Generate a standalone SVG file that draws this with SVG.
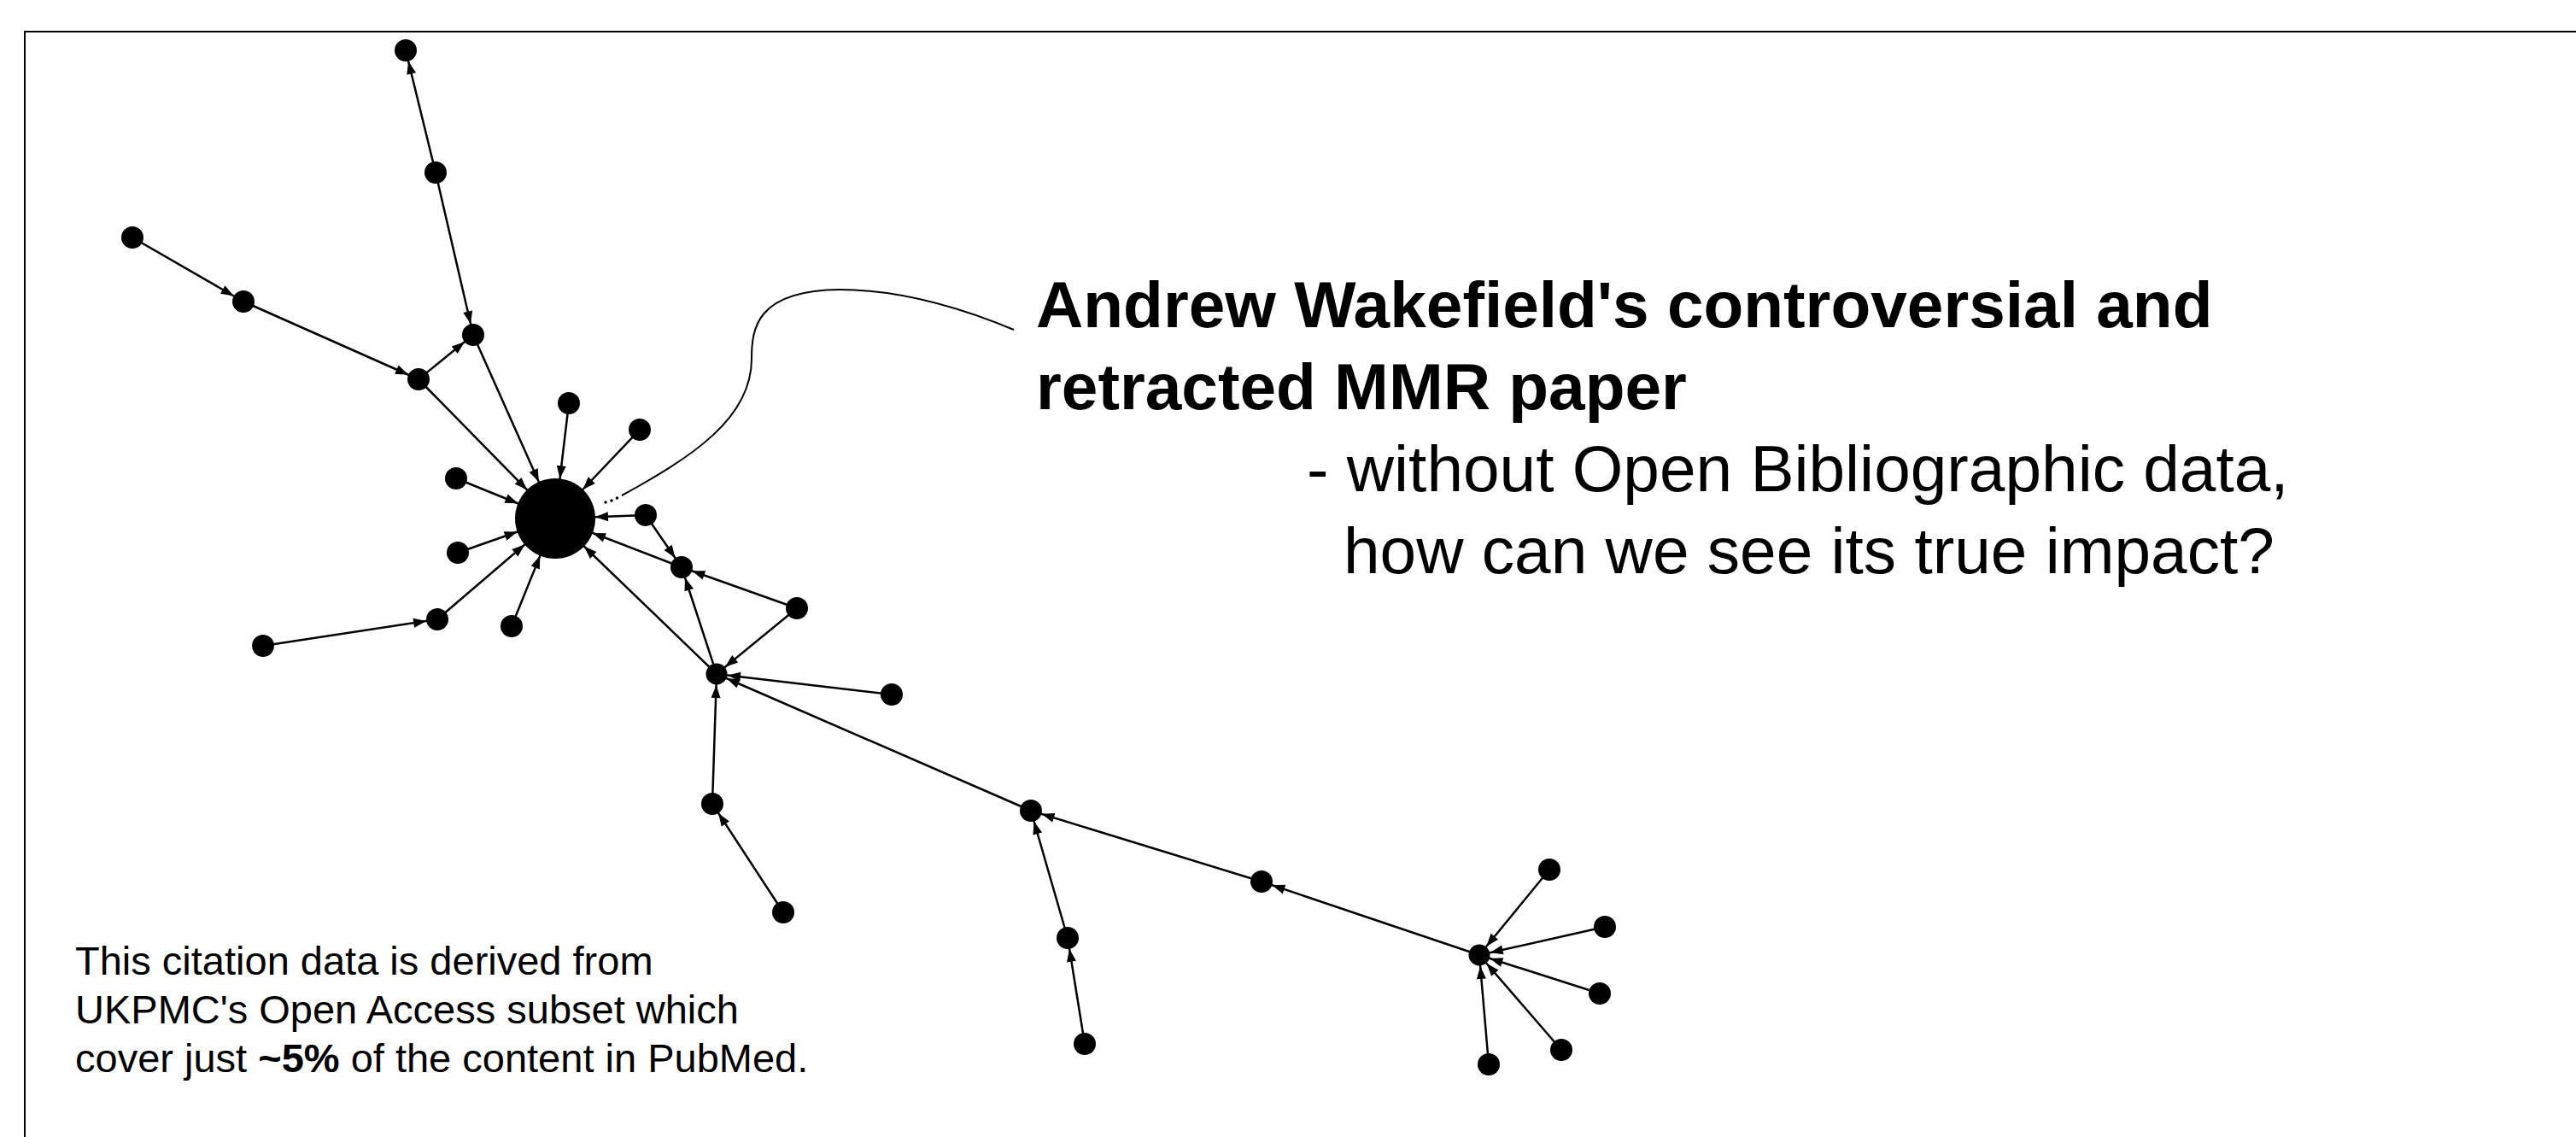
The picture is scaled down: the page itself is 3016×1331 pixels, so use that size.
<svg xmlns="http://www.w3.org/2000/svg" width="3016" height="1331" viewBox="0 0 3016 1331">
<style>
  .frame{fill:none;stroke:#000;stroke-width:2}
  .node{fill:#000}
  .e{stroke:#000;stroke-width:2.5;fill:none}
  .es{marker-end:url(#arrS)}
  .eb{marker-end:url(#arrB)}
  .callout{fill:none;stroke:#000;stroke-width:2}
  .title{font-family:"Liberation Sans",Arial,sans-serif;font-size:76.6px;font-weight:bold;fill:#000}
  .sub{font-family:"Liberation Sans",Arial,sans-serif;font-size:76.6px;fill:#000}
  .note{font-family:"Liberation Sans",Arial,sans-serif;font-size:47px;fill:#000}
</style>
<defs>
  <marker id="arrS" markerUnits="userSpaceOnUse" markerWidth="60" markerHeight="20" refX="28" refY="5.5" orient="auto" overflow="visible">
    <path d="M0,0 L15,5.5 L0,11 z" fill="#000"/>
  </marker>
  <marker id="arrB" markerUnits="userSpaceOnUse" markerWidth="80" markerHeight="20" refX="62" refY="5.5" orient="auto" overflow="visible">
    <path d="M0,0 L15,5.5 L0,11 z" fill="#000"/>
  </marker>
</defs>
<rect x="0" y="0" width="3016" height="1331" fill="#fff"/>
<rect class="frame" x="29" y="37" width="3100" height="1400"/>

<g id="connectors">
  <line class="e es" x1="510" y1="202" x2="475" y2="59"/>
  <line class="e es" x1="510" y1="202" x2="554" y2="392"/>
  <line class="e es" x1="155" y1="278" x2="285" y2="353"/>
  <line class="e es" x1="285" y1="353" x2="490" y2="444"/>
  <line class="e es" x1="490" y1="444" x2="554" y2="392"/>
  <line class="e eb" x1="490" y1="444" x2="650" y2="607"/>
  <line class="e eb" x1="554" y1="392" x2="650" y2="607"/>
  <line class="e eb" x1="666" y1="472" x2="650" y2="607"/>
  <line class="e eb" x1="749" y1="503" x2="650" y2="607"/>
  <line class="e eb" x1="534" y1="560" x2="650" y2="607"/>
  <line class="e eb" x1="536" y1="647" x2="650" y2="607"/>
  <line class="e eb" x1="756" y1="603" x2="650" y2="607"/>
  <line class="e es" x1="756" y1="603" x2="798" y2="664"/>
  <line class="e eb" x1="798" y1="664" x2="650" y2="607"/>
  <line class="e eb" x1="839" y1="789" x2="650" y2="607"/>
  <line class="e es" x1="839" y1="789" x2="798" y2="664"/>
  <line class="e es" x1="933" y1="712" x2="798" y2="664"/>
  <line class="e es" x1="933" y1="712" x2="839" y2="789"/>
  <line class="e es" x1="1044" y1="813" x2="839" y2="789"/>
  <line class="e es" x1="834" y1="941" x2="839" y2="789"/>
  <line class="e es" x1="917" y1="1068" x2="834" y2="941"/>
  <line class="e eb" x1="512" y1="725" x2="650" y2="607"/>
  <line class="e es" x1="308" y1="756" x2="512" y2="725"/>
  <line class="e eb" x1="599" y1="733" x2="650" y2="607"/>
  <line class="e es" x1="1207" y1="949" x2="839" y2="789"/>
  <line class="e es" x1="1250" y1="1098" x2="1207" y2="949"/>
  <line class="e es" x1="1270" y1="1222" x2="1250" y2="1098"/>
  <line class="e es" x1="1477" y1="1032" x2="1207" y2="949"/>
  <line class="e es" x1="1732" y1="1118" x2="1477" y2="1032"/>
  <line class="e es" x1="1814" y1="1018" x2="1732" y2="1118"/>
  <line class="e es" x1="1879" y1="1085" x2="1732" y2="1118"/>
  <line class="e es" x1="1873" y1="1163" x2="1732" y2="1118"/>
  <line class="e es" x1="1828" y1="1229" x2="1732" y2="1118"/>
  <line class="e es" x1="1743" y1="1246" x2="1732" y2="1118"/>
</g>

<g id="nodes">
  <g id="n-hub"><circle class="node" cx="650" cy="607" r="47"/></g>
  <g id="n-a"><circle class="node" cx="475" cy="59" r="13"/></g>
  <g id="n-b"><circle class="node" cx="510" cy="202" r="13"/></g>
  <g id="n-c"><circle class="node" cx="155" cy="278" r="13"/></g>
  <g id="n-d"><circle class="node" cx="285" cy="353" r="13"/></g>
  <g id="n-e"><circle class="node" cx="554" cy="392" r="13"/></g>
  <g id="n-f"><circle class="node" cx="490" cy="444" r="13"/></g>
  <g id="n-g"><circle class="node" cx="666" cy="472" r="13"/></g>
  <g id="n-h"><circle class="node" cx="749" cy="503" r="13"/></g>
  <g id="n-i"><circle class="node" cx="534" cy="560" r="13"/></g>
  <g id="n-j"><circle class="node" cx="756" cy="603" r="13"/></g>
  <g id="n-k"><circle class="node" cx="798" cy="664" r="13"/></g>
  <g id="n-l"><circle class="node" cx="536" cy="647" r="13"/></g>
  <g id="n-m"><circle class="node" cx="512" cy="725" r="13"/></g>
  <g id="n-n"><circle class="node" cx="308" cy="756" r="13"/></g>
  <g id="n-o"><circle class="node" cx="599" cy="733" r="13"/></g>
  <g id="n-p"><circle class="node" cx="933" cy="712" r="13"/></g>
  <g id="n-q"><circle class="node" cx="839" cy="789" r="12.5"/></g>
  <g id="n-r"><circle class="node" cx="834" cy="941" r="13"/></g>
  <g id="n-s"><circle class="node" cx="917" cy="1068" r="13"/></g>
  <g id="n-t"><circle class="node" cx="1044" cy="813" r="13"/></g>
  <g id="n-u"><circle class="node" cx="1207" cy="949" r="13"/></g>
  <g id="n-v"><circle class="node" cx="1250" cy="1098" r="13"/></g>
  <g id="n-w"><circle class="node" cx="1270" cy="1222" r="13"/></g>
  <g id="n-x"><circle class="node" cx="1477" cy="1032" r="13"/></g>
  <g id="n-y"><circle class="node" cx="1732" cy="1118" r="12.5"/></g>
  <g id="n-z1"><circle class="node" cx="1814" cy="1018" r="13"/></g>
  <g id="n-z2"><circle class="node" cx="1879" cy="1085" r="13"/></g>
  <g id="n-z3"><circle class="node" cx="1873" cy="1163" r="13"/></g>
  <g id="n-z4"><circle class="node" cx="1828" cy="1229" r="13"/></g>
  <g id="n-z5"><circle class="node" cx="1743" cy="1246" r="13"/></g>
</g>

<g id="callout">
  <circle cx="709" cy="588" r="1.8" fill="#000"/>
  <circle cx="716" cy="586" r="1.8" fill="#000"/>
  <circle cx="722.5" cy="583" r="1.8" fill="#000"/>
  <path class="callout" d="M728,580 C810,535 880,490 880,420 C880,385 885,340 983,339 C1050,339 1120,358 1187,386"/>
</g>

<g id="title">
  <text class="title" x="1213" y="383">Andrew Wakefield's controversial and</text>
  <text class="title" x="1213" y="479">retracted MMR paper</text>
  <text class="sub" x="1530" y="575">- without Open Bibliographic data,</text>
  <text class="sub" x="1573" y="671">how can we see its true impact?</text>
</g>

<g id="note">
  <text class="note" x="88" y="1141">This citation data is derived from</text>
  <text class="note" x="88" y="1198">UKPMC's Open Access subset which</text>
  <text class="note" x="88" y="1255">cover just <tspan font-weight="bold">~5%</tspan> of the content in PubMed.</text>
</g>
</svg>
